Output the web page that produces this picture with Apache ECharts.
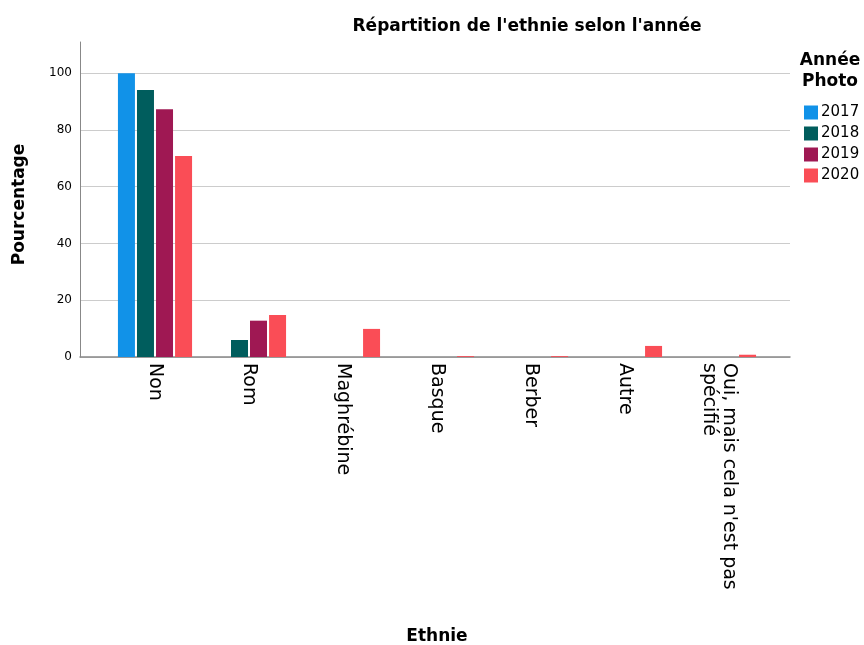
<!DOCTYPE html>
<html>
<head>
<meta charset="utf-8">
<script src="https://cdn.jsdelivr.net/npm/echarts@6/dist/echarts.min.js"></script>
<style>
  html, body { margin: 0; padding: 0; background: #fff; }
</style>
</head>
<body>
<div id="chart" style="width: 864px; height: 645px"></div>
<script>
// catégories et valeurs (%)
const ethnies = ['Non', 'Rom', 'Maghrébine', 'Basque', 'Berber', 'Autre', "Oui, mais cela n'est pas spécifié"];
const annees = ['2017', '2018', '2019', '2020'];
const v2017 = [100, 0, 0, 0, 0, 0, 0];
const v2018 = [94.1, 6.0, 0, 0, 0, 0, 0];
const v2019 = [87.3, 12.8, 0, 0, 0, 0, 0];
const v2020 = [70.8, 14.8, 9.9, 0.3, 0.3, 3.9, 0.8];
const yTicks = [0, 20, 40, 60, 80, 100];

const couleurs = ['#1192e8', '#005d5d', '#9f1853', '#fa4d56'];
const valeurs = [v2017, v2018, v2019, v2020];
const police = '"DejaVu Sans", sans-serif';

let myChart = echarts.init(document.getElementById('chart'));

let option = {
  color: couleurs,
  textStyle: { fontFamily: police },
  title: [
    {
      text: "Répartition de l'ethnie selon l'année",
      left: 522,
      top: 13,
      textAlign: 'center',
      textStyle: { fontSize: 17, fontWeight: 'bold', color: '#000' }
    },
    {
      text: 'Année\nPhoto',
      left: 830,
      top: 50,
      padding: 0,
      textAlign: 'center',
      textStyle: { fontSize: 17, fontWeight: 'bold', color: '#000', lineHeight: 21 }
    }
  ],
  legend: {
    orient: 'vertical',
    left: 799,
    top: 100,
    itemWidth: 14,
    itemHeight: 14,
    itemGap: 6,
    icon: 'rect',
    data: annees,
    textStyle: { fontSize: 15, color: '#000', padding: [0, 0, 0, -2] }
  },
  grid: [
    { left: 80, right: 74, top: 42, bottom: 288, outerBoundsMode: 'none' },
    { left: 108, right: 98, top: 42, bottom: 288, outerBoundsMode: 'none' }
  ],
  xAxis: [
    {
      gridIndex: 0,
      type: 'category',
      data: [''],
      axisLine: { lineStyle: { color: '#888', width: 1.5 } },
      axisTick: { show: false },
      axisLabel: { show: false }
    },
    {
      gridIndex: 1,
      type: 'category',
      data: ethnies,
      name: 'Ethnie',
      nameLocation: 'middle',
      nameGap: 271,
      nameTextStyle: { fontSize: 17, fontWeight: 'bold', color: '#000' },
      axisLine: { show: false },
      axisTick: { show: false },
      axisLabel: {
        interval: 0,
        rotate: -90,
        margin: 6,
        fontSize: 19,
        color: '#000',
        width: 245,
        overflow: 'break',
        lineHeight: 20
      }
    }
  ],
  yAxis: [
    {
      gridIndex: 0,
      type: 'value',
      min: 0,
      max: 111,
      interval: 20,
      name: 'Pourcentage',
      nameLocation: 'middle',
      nameGap: 52,
      nameTextStyle: { fontSize: 17, fontWeight: 'bold', color: '#000', padding: [0, 10, 0, 0] },
      axisLine: { show: true, lineStyle: { color: '#888' } },
      axisTick: { show: false },
      axisLabel: {
        fontSize: 12,
        color: '#000',
        margin: 8,
        showMaxLabel: false,
        formatter: v => (yTicks.indexOf(v) >= 0 ? String(v) : '')
      },
      splitLine: { show: true, showMaxLine: false, lineStyle: { color: '#cccccc', width: 1.2 } }
    },
    {
      gridIndex: 1,
      type: 'value',
      min: 0,
      max: 111,
      show: false,
      splitLine: { show: false }
    }
  ],
  series: annees.map((a, i) => ({
    name: a,
    type: 'bar',
    xAxisIndex: 1,
    yAxisIndex: 1,
    barWidth: 17,
    barGap: '12%',
    data: valeurs[i],
    itemStyle: { color: couleurs[i] }
  }))
};

myChart.setOption(option);
</script>
</body>
</html>
